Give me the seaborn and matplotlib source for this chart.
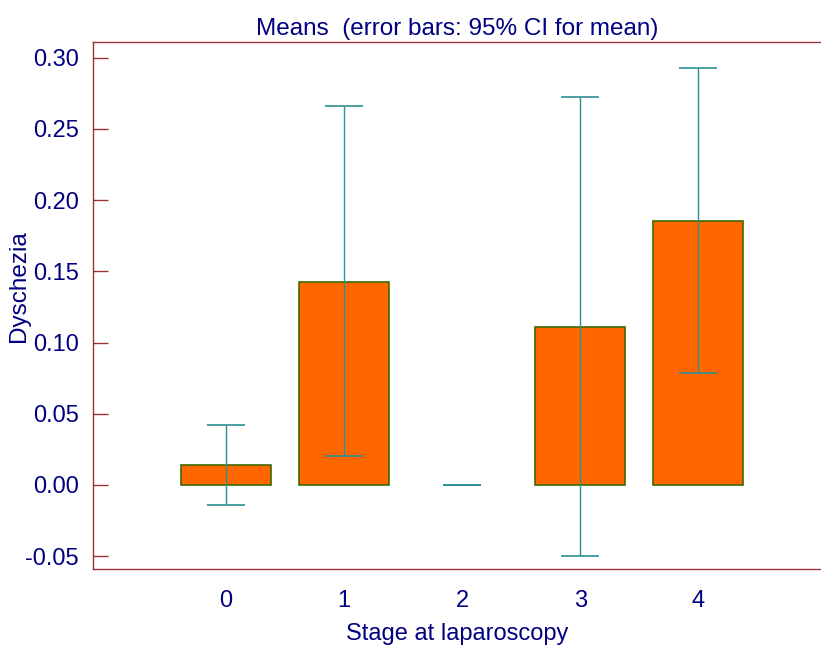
import matplotlib
matplotlib.use("Agg")
import matplotlib.pyplot as plt
import seaborn as sns
import pandas as pd
import numpy as np

stages = ["0", "1", "2", "3", "4"]
means = [0.014, 0.1425, 0.0, 0.111, 0.1855]
ci_low = [-0.014, 0.0205, 0.0, -0.050, 0.0785]
ci_high = [0.042, 0.266, 0.0, 0.2725, 0.293]
yticks = [-0.05, 0.0, 0.05, 0.10, 0.15, 0.20, 0.25, 0.30]

sns.set_theme(style="white")
plt.rcParams['font.family'] = ['Liberation Sans', 'DejaVu Sans']

navy = "#000080"
spine_c = "#993333"

df = pd.DataFrame({"stage": stages, "mean": means})

fig = plt.figure(figsize=(8.21, 6.55), dpi=100)
ax = fig.add_axes([93/821, 1-569/655, 1-93/821, (569-42)/655])

sns.barplot(data=df, x="stage", y="mean", order=stages, errorbar=None,
            color="#FF6600", saturation=1, width=0.76,
            edgecolor="#3d6b00", linewidth=1.2, ax=ax)
for p in ax.patches:
    if p.get_height() == 0:
        p.set_linewidth(0)

pos = np.arange(len(stages))
m = np.array(means)
lo = m - np.array(ci_low)
hi = np.array(ci_high) - m
ax.errorbar(pos, m, yerr=[lo, hi], fmt="none", ecolor="#2e9090",
            elinewidth=1.0, capsize=14, capthick=1.2, zorder=5)

ax.set_xlim(-1.127, 5.04)
ax.set_ylim(-0.059, 0.311)
ax.set_yticks(yticks)
ax.set_yticklabels([f"{v:.2f}" for v in yticks])

for s in ["left", "bottom", "top"]:
    ax.spines[s].set_color(spine_c)
    ax.spines[s].set_linewidth(1.0)
ax.spines["right"].set_visible(False)

fs = 17
ax.tick_params(axis="y", direction="in", length=11, width=1, color=spine_c,
               labelcolor=navy, labelsize=fs, pad=10, left=True)
ax.tick_params(axis="x", length=0, labelcolor=navy, labelsize=fs, pad=15)

ax.set_xlabel("Stage at laparoscopy", color=navy, fontsize=fs, labelpad=8)
ax.set_ylabel("Dyschezia", color=navy, fontsize=17.5)
ax.yaxis.set_label_coords(-0.0865, 0.537)
ax.set_title("Means  (error bars: 95% CI for mean)", color=navy, fontsize=17.5, pad=5)

fig.savefig("out.png", dpi=100)
